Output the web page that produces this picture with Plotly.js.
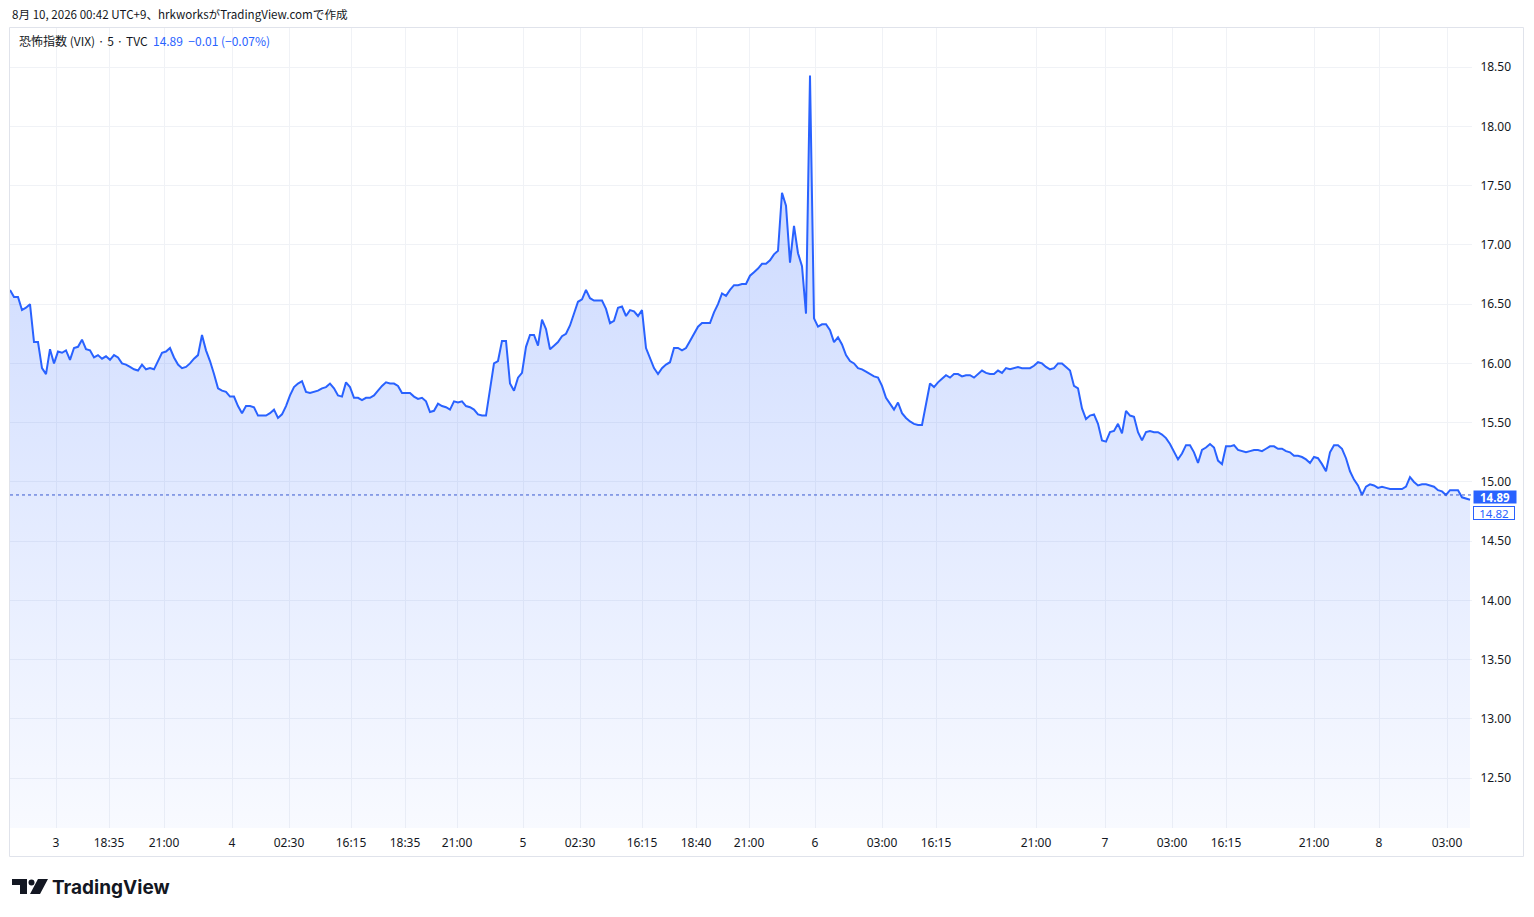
<!DOCTYPE html>
<html>
<head>
<meta charset="utf-8">
<script src="https://cdn.plot.ly/plotly-3.0.1.min.js"></script>
<style>
html,body{margin:0;padding:0;background:#fff;}
#chart{width:1534px;height:917px;}
</style>
</head>
<body>
<div id="chart"></div>
<script>
// ---- data (5-minute VIX closes) ----
const vix = [
16.62,16.56,16.56,16.45,16.47,16.50,16.18,16.18,15.96,15.91,16.12,16.00,
16.10,16.09,16.11,16.03,16.13,16.14,16.20,16.12,16.11,16.05,16.07,16.04,
16.06,16.03,16.07,16.05,16.00,15.99,15.97,15.95,15.94,15.99,15.95,15.96,
15.95,16.02,16.09,16.10,16.13,16.05,15.99,15.96,15.97,16.00,16.04,16.07,
16.24,16.11,16.02,15.91,15.79,15.77,15.76,15.72,15.72,15.64,15.58,15.64,
15.64,15.63,15.56,15.56,15.56,15.58,15.61,15.54,15.57,15.64,15.73,15.80,
15.83,15.85,15.76,15.75,15.76,15.77,15.79,15.80,15.83,15.79,15.73,15.72,
15.84,15.80,15.71,15.71,15.69,15.71,15.71,15.73,15.77,15.81,15.84,15.83,
15.83,15.81,15.75,15.75,15.75,15.72,15.70,15.71,15.68,15.59,15.60,15.66,
15.64,15.63,15.61,15.68,15.67,15.68,15.64,15.63,15.61,15.57,15.56,15.56,
15.80,16.00,16.02,16.19,16.19,15.83,15.77,15.88,15.92,16.14,16.24,16.24,
16.15,16.37,16.29,16.12,16.15,16.18,16.23,16.25,16.32,16.42,16.52,16.54,
16.62,16.55,16.53,16.53,16.53,16.46,16.34,16.36,16.47,16.48,16.40,16.45,
16.44,16.40,16.45,16.13,16.05,15.96,15.91,15.96,15.99,16.01,16.13,16.13,
16.11,16.13,16.19,16.25,16.31,16.34,16.34,16.34,16.43,16.50,16.59,16.57,
16.62,16.66,16.66,16.67,16.67,16.74,16.77,16.80,16.84,16.84,16.87,16.92,
16.95,17.44,17.33,16.85,17.16,16.93,16.82,16.42,18.43,16.38,16.31,16.33,
16.33,16.28,16.18,16.22,16.16,16.07,16.02,16.00,15.96,15.95,15.93,15.91,
15.89,15.88,15.81,15.71,15.66,15.61,15.67,15.58,15.54,15.51,15.49,15.48,
15.48,15.64,15.83,15.80,15.84,15.87,15.90,15.88,15.91,15.91,15.89,15.90,
15.90,15.88,15.91,15.94,15.92,15.91,15.91,15.94,15.92,15.96,15.95,15.96,
15.97,15.96,15.96,15.96,15.98,16.01,16.00,15.97,15.95,15.96,16.00,16.00,
15.97,15.94,15.81,15.79,15.62,15.53,15.56,15.57,15.49,15.35,15.34,15.42,
15.43,15.49,15.41,15.60,15.56,15.55,15.42,15.35,15.42,15.43,15.42,15.42,
15.40,15.37,15.32,15.26,15.19,15.24,15.31,15.31,15.25,15.16,15.27,15.29,
15.32,15.29,15.18,15.15,15.30,15.30,15.31,15.27,15.26,15.25,15.26,15.27,
15.27,15.26,15.28,15.30,15.30,15.28,15.28,15.26,15.25,15.22,15.22,15.21,
15.19,15.16,15.21,15.20,15.15,15.09,15.25,15.31,15.31,15.28,15.20,15.09,
15.02,14.97,14.89,14.96,14.98,14.97,14.95,14.96,14.95,14.94,14.94,14.94,
14.94,14.96,15.04,15.00,14.97,14.98,14.98,14.97,14.96,14.93,14.92,14.89,
14.93,14.93,14.93,14.87,14.86,14.85
];
const barIndex = vix.map((_, i) => i);

const timeTickPos   = [11.5, 24.75, 38.5, 55.5, 69.75, 85.25, 98.75, 111.75, 128.25, 142.5, 158, 171.5, 184.75, 201.25, 218, 231.5, 256.5, 273.75, 290.5, 304, 326, 342.25, 359.25];
const timeTickLabel = ["3","18:35","21:00","4","02:30","16:15","18:35","21:00","5","02:30","16:15","18:40","21:00","6","03:00","16:15","21:00","7","03:00","16:15","21:00","8","03:00"];
const priceTicks    = [12.5, 13.0, 13.5, 14.0, 14.5, 15.0, 15.5, 16.0, 16.5, 17.0, 17.5, 18.0, 18.5];

const lastPrice = 14.89;
const lastLabel = "14.89";
const otherLabel = "14.82";
const change = "−0.01";
const changePct = "(−0.07%)";

// ---- layout helpers (pixel -> paper for decorations) ----
const L = 10, R = 1472, T = 28, B = 828;
const px = x => (x - L) / (R - L);
const py = y => (B - y) / (B - T);

const textColor = "#131722";
const blue = "#2962ff";
const gridColor = "#f0f2f6";
const numFont = "Noto Sans, Roboto, sans-serif";
const jpFont = "Noto Sans CJK JP, Noto Sans, sans-serif";

const trace = {
  x: barIndex,
  y: vix,
  type: "scatter",
  mode: "lines",
  line: {color: blue, width: 2},
  fill: "tozeroy",
  fillgradient: {
    type: "vertical",
    start: 12.0,
    stop: 18.5,
    colorscale: [[0, "rgba(41,98,255,0.03)"], [1, "rgba(41,98,255,0.27)"]]
  },
  hoverinfo: "skip"
};

const layout = {
  width: 1534,
  height: 917,
  margin: {l: L, r: 1534 - R, t: T, b: 917 - B, pad: 0},
  paper_bgcolor: "#ffffff",
  plot_bgcolor: "#ffffff",
  showlegend: false,
  xaxis: {
    range: [0, 365.5],
    tickmode: "array",
    tickvals: timeTickPos,
    ticktext: timeTickLabel,
    showgrid: true,
    gridcolor: gridColor,
    gridwidth: 1,
    zeroline: false,
    showline: false,
    ticks: "outside",
    ticklen: 4,
    tickcolor: "rgba(0,0,0,0)",
    tickfont: {family: numFont, size: 12, color: textColor},
    fixedrange: true
  },
  yaxis: {
    side: "right",
    range: [12.08, 18.83],
    tickmode: "array",
    tickvals: priceTicks,
    ticktext: priceTicks.map(v => v.toFixed(2)),
    showgrid: true,
    gridcolor: gridColor,
    gridwidth: 1,
    zeroline: false,
    showline: false,
    ticks: "outside",
    ticklen: 5,
    tickcolor: "rgba(0,0,0,0)",
    tickfont: {family: numFont, size: 12, color: textColor},
    fixedrange: true
  },
  shapes: [
    // chart frame
    {type: "rect", xref: "paper", yref: "paper", x0: px(9.5), x1: px(1523.5), y0: py(856.5), y1: py(27.5),
     line: {color: "#e0e3eb", width: 1}, fillcolor: "rgba(0,0,0,0)", layer: "below"},
    // last price dotted line
    {type: "line", xref: "paper", yref: "y", x0: 0, x1: 1, y0: lastPrice, y1: lastPrice,
     line: {color: "#3a5bd0", width: 1, dash: "dot"}},
    // TradingView logo
    {type: "path", xref: "paper", yref: "paper",
     path: `M ${px(12)} ${py(879)} L ${px(27)} ${py(879)} L ${px(27)} ${py(894)} L ${px(20)} ${py(894)} L ${px(20)} ${py(885)} L ${px(12)} ${py(885)} Z`,
     fillcolor: textColor, line: {width: 0}},
    {type: "circle", xref: "paper", yref: "paper", x0: px(28.5), x1: px(34.5), y0: py(885.5), y1: py(879.5),
     fillcolor: textColor, line: {width: 0}},
    {type: "path", xref: "paper", yref: "paper",
     path: `M ${px(38)} ${py(879)} L ${px(48)} ${py(879)} L ${px(40)} ${py(894)} L ${px(30)} ${py(894)} Z`,
     fillcolor: textColor, line: {width: 0}}
  ],
  annotations: [
    {xref: "paper", yref: "paper", x: px(10), y: py(14), xanchor: "left", yanchor: "middle", showarrow: false,
     text: "8月 10, 2026 00:42 UTC+9、hrkworksがTradingView.comで作成",
     font: {family: jpFont, size: 11.6, color: textColor}},
    {xref: "paper", yref: "paper", x: px(17), y: py(41), xanchor: "left", yanchor: "middle", showarrow: false,
     text: `恐怖指数 (VIX) · 5 · TVC  <span style="color:${blue}">${lastLabel}  ${change} ${changePct}</span>`,
     font: {family: jpFont, size: 12, color: textColor}},
    {xref: "paper", yref: "paper", x: px(50), y: py(887), xanchor: "left", yanchor: "middle", showarrow: false,
     text: "TradingView",
     font: {family: "Inter, Roboto, sans-serif", size: 19, color: textColor, weight: 700}},
    {xref: "paper", yref: "y", x: 1, y: lastPrice, yshift: -2, xanchor: "left", yanchor: "middle", xshift: 1, showarrow: false,
     text: `<b>${lastLabel}</b>`, bgcolor: blue, borderpad: 0, width: 42, height: 12, align: "center",
     font: {family: numFont, size: 11.5, color: "#ffffff"}},
    {xref: "paper", yref: "y", x: 1, y: lastPrice, yshift: -18, xanchor: "left", yanchor: "middle", xshift: 1, showarrow: false,
     text: otherLabel, bgcolor: "#ffffff", bordercolor: blue, borderwidth: 1, borderpad: 0, width: 40, height: 12, align: "center",
     font: {family: numFont, size: 11.5, color: blue}}
  ]
};

Plotly.newPlot("chart", [trace], layout, {displayModeBar: false, staticPlot: true});
</script>
</body>
</html>
